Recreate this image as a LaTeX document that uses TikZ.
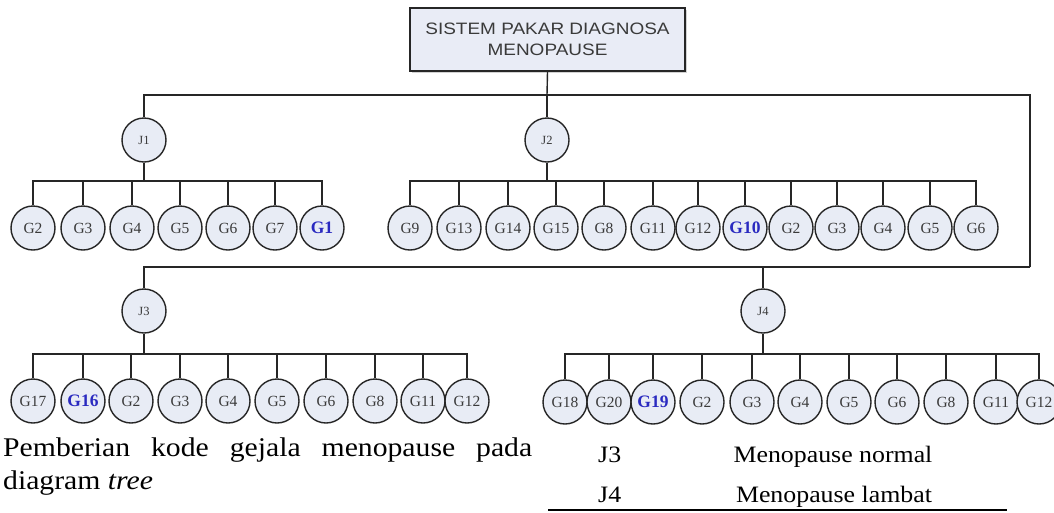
\documentclass[tikz,border=0pt]{standalone}
\usepackage{fontspec}
\setmainfont{Liberation Serif}
\newfontfamily\capfont[FakeStretch=1.1]{Liberation Serif}
\newfontfamily\boxfont[FakeStretch=1.15]{Liberation Sans}
\usetikzlibrary{shadows}
\definecolor{nodefill}{HTML}{E8ECF5}
\definecolor{boxfill}{HTML}{E9ECF6}
\definecolor{edge}{HTML}{262626}
\definecolor{gblue}{HTML}{2A2AC0}
\definecolor{gtext}{HTML}{3A3A3A}
\tikzset{
  gnode/.style={circle, draw=edge, line width=1.4pt, fill=nodefill, minimum size=44pt, inner sep=0pt,
    font=\fontsize{15.5}{15.5}\selectfont, text=gtext},
  gkey/.style={gnode, font=\fontsize{17.5}{17.5}\selectfont\bfseries, text=gblue},
  jnode/.style={gnode, font=\fontsize{12.5}{12.5}\selectfont},
  wire/.style={draw=edge, line width=1.4pt},
  rootbox/.style={draw=edge, line width=1.6pt, fill=boxfill, minimum width=275pt, minimum height=63pt,
    align=center, inner sep=0pt, font=\boxfont\fontsize{16.5}{20.5}\selectfont, text=gtext,
    drop shadow={shadow xshift=2pt, shadow yshift=-2pt, opacity=0.35}},
  captxt/.style={inner sep=0pt, anchor=base west, font=\capfont\fontsize{27}{32}\selectfont},
  tabtxt/.style={inner sep=0pt, font=\capfont\fontsize{23.5}{28}\selectfont},
}
\begin{document}
\begin{tikzpicture}[x=1pt, y=-1pt]
\useasboundingbox[fill=white] (0,0) rectangle (1054,512);

% root
\node[rootbox] (root) at (547.5,39.5) {SISTEM PAKAR DIAGNOSA\\MENOPAUSE};

% J nodes
\node[jnode] (J1) at (144,140) {J1};
\node[jnode] (J2) at (547,140) {J2};
\node[jnode] (J3) at (144,311) {J3};
\node[jnode] (J4) at (763,311) {J4};

% trunk
\coordinate (t) at (547,95);
\coordinate (r2) at (1030,267);
\draw[wire] (root.south) -- (t);
\draw[wire] (t) -| (J1.north);
\draw[wire] (t) -| (J2.north);
\draw[wire] (t) -| (r2);
\draw[wire] (r2) -| (J3.north);
\draw[wire] (r2) -| (J4.north);

% buses
\coordinate (ba) at (144,181);
\coordinate (bb) at (547,181);
\coordinate (bc) at (144,354);
\coordinate (bd) at (763,354);
\draw[wire] (J1.south) -- (ba);
\draw[wire] (J2.south) -- (bb);
\draw[wire] (J3.south) -- (bc);
\draw[wire] (J4.south) -- (bd);

% J1 children
\foreach \lab/\x/\s [count=\i] in {G2/33/gnode, G3/83/gnode, G4/132/gnode, G5/180/gnode, G6/228/gnode, G7/275/gnode, G1/322/gkey}{
  \node[\s] (ca\i) at (\x,228) {\lab};
  \draw[wire] (ba) -| (ca\i.north);
}
% J2 children
\foreach \lab/\x/\s [count=\i] in {G9/410/gnode, G13/459/gnode, G14/508/gnode, G15/556/gnode, G8/604/gnode, G11/653/gnode, G12/698/gnode, G10/745/gkey, G2/791/gnode, G3/837/gnode, G4/883/gnode, G5/930/gnode, G6/976/gnode}{
  \node[\s] (cb\i) at (\x,228) {\lab};
  \draw[wire] (bb) -| (cb\i.north);
}
% J3 children
\foreach \lab/\x/\s [count=\i] in {G17/33/gnode, G16/83/gkey, G2/131/gnode, G3/180/gnode, G4/228/gnode, G5/277/gnode, G6/326/gnode, G8/375/gnode, G11/423/gnode, G12/467/gnode}{
  \node[\s] (cc\i) at (\x,401) {\lab};
  \draw[wire] (bc) -| (cc\i.north);
}
% J4 children
\foreach \lab/\x/\s [count=\i] in {G18/565/gnode, G20/609/gnode, G19/653/gkey, G2/702/gnode, G3/752/gnode, G4/800/gnode, G5/849/gnode, G6/897/gnode, G8/946/gnode, G11/996/gnode, G12/1039/gnode}{
  \node[\s] (cd\i) at (\x,402) {\lab};
  \draw[wire] (bd) -| (cd\i.north);
}

% caption
\node[captxt] (cap1) at (3,456) {\makebox[529pt][s]{Pemberian kode gejala menopause pada}};
\node[captxt] (cap2) at (3,489) {diagram \textit{tree}};

% table
\node[tabtxt, anchor=base west] (k3) at (598,462) {J3};
\node[tabtxt, anchor=base] (v3) at (833,462) {Menopause normal};
\node[tabtxt, anchor=base west] (k4) at (598,502) {J4};
\node[tabtxt, anchor=base] (v4) at (834,502) {Menopause lambat};
\draw[line width=1.3pt, black] (548,510) -- (1007,510);
\end{tikzpicture}
\end{document}
